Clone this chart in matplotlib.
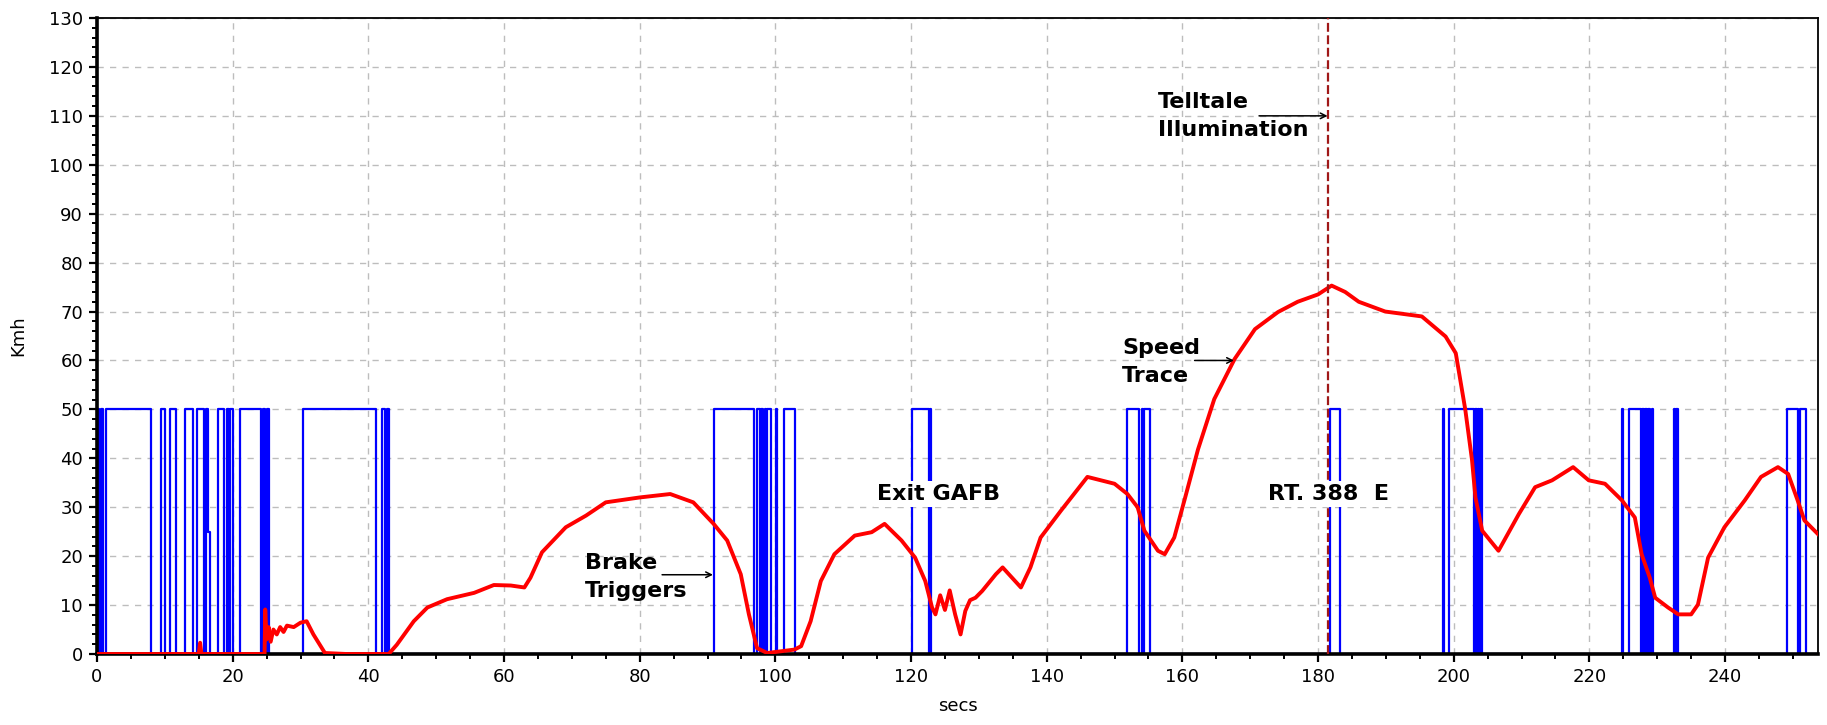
import matplotlib
matplotlib.use("Agg")
import matplotlib.pyplot as plt
from matplotlib.ticker import MultipleLocator

# speed trace (secs, Kmh)
speed_t = [0, 15.0, 15.2, 15.4, 24.7, 24.8, 25.0, 25.3, 25.6, 26.0, 26.5, 27.0, 27.5, 28, 29, 30,
           30.9, 31.9, 33.6, 36.8, 40.8, 43.0, 44.2, 46.7, 48.7, 51.6, 55.6, 58.5, 61, 63, 63.9,
           65.6, 69.1, 72.1, 75, 80, 84.5, 87.9, 90.9, 92.9, 94.9, 96.1, 97.3, 98.8, 102.8, 103.8,
           105.2, 106.7, 108.7, 111.7, 114.2, 116.1, 118.6, 120.6, 122.1, 123.1, 123.6, 124.3, 125,
           125.7, 126.5, 127.3, 128, 128.7, 129.5, 130.5, 132.5, 133.5, 136.2, 137.6, 139.1, 142.1,
           146, 150, 151.9, 153.4, 154.4, 156.4, 157.4, 158.8, 160.3, 162.3, 164.7, 167.7, 170.7,
           174.1, 177, 180, 182, 184, 186, 189.9, 195.3, 198.8, 200.3, 201.7, 202.7, 203.2, 204.2,
           206.6, 209.6, 212, 214.5, 217.6, 219.9, 222.3, 224.8, 226.7, 227.7, 228.9, 229.7, 231.6,
           233.1, 235, 236, 237.5, 239.9, 242.9, 245.3, 247.8, 249.3, 250.7, 251.7, 253.7]
speed_v = [0, 0, 2.3, 0, 0, 9.1, 3, 5.5, 2.5, 5, 4, 5.5, 4.5, 5.8, 5.5, 6.4,
           6.7, 4, 0.2, 0, 0, 0, 1.9, 6.7, 9.5, 11.2, 12.5, 14.1, 14, 13.6, 15.6,
           20.8, 25.9, 28.3, 31, 32, 32.7, 31, 26.6, 23.2, 16.3, 8.1, 1.2, 0.2, 0.9, 1.6,
           6.7, 14.9, 20.4, 24.2, 24.9, 26.6, 23.2, 19.7, 14.9, 9.5, 8.1, 12, 9,
           13, 8.1, 4, 8.8, 11, 11.5, 12.9, 16.3, 17.7, 13.6, 17.7, 23.8, 29.3,
           36.2, 34.8, 32.7, 30, 25.2, 21.1, 20.4, 23.8, 31.4, 41.8, 52.1, 60.3, 66.4,
           69.9, 72, 73.5, 75.3, 74, 72, 70, 69, 64.9, 61.5, 50, 39.6, 32, 25.2,
           21.1, 28.6, 34.1, 35.5, 38.2, 35.5, 34.8, 31.4, 27.9, 20.4, 15.6, 11.5, 9.5,
           8.1, 8.1, 10.1, 19.7, 25.9, 31.4, 36.2, 38.2, 36.8, 31.4, 27.3, 24.5]

# brake trigger signal: (time where level changes, new level)
brake_steps = [(0.0, 50), (0.3, 0), (0.6, 50), (0.9, 0), (1.3, 50), (7.9, 0), (9.4, 50), (10.0, 0),
               (10.7, 50), (11.7, 0), (12.9, 50), (14.2, 0), (14.8, 50), (15.7, 0), (16.0, 50),
               (16.4, 25), (16.7, 0), (17.9, 50), (18.7, 0), (19.1, 50), (19.4, 0), (19.6, 50),
               (20.0, 0), (21.1, 50), (24.2, 0), (24.5, 50), (24.8, 0), (25.0, 50), (25.3, 0),
               (30.3, 50), (41.1, 0), (42.0, 50), (42.5, 0), (42.7, 50), (43.0, 0),
               (91.0, 50), (96.8, 0), (97.3, 50), (97.7, 0), (97.9, 50), (98.2, 0), (98.4, 50),
               (98.6, 0), (98.8, 50), (99.3, 0), (100.1, 50), (100.2, 0), (101.2, 50), (102.9, 0),
               (120.2, 50), (122.6, 0), (122.75, 50), (122.9, 0),
               (151.9, 50), (153.6, 0), (154.1, 50), (154.2, 0), (154.4, 50), (155.3, 0),
               (181.7, 50), (183.3, 0),
               (198.4, 50), (198.6, 0), (199.3, 50), (203.0, 0), (203.2, 50), (203.4, 0),
               (203.6, 50), (203.8, 0), (203.9, 50), (204.1, 0),
               (224.8, 50), (225.0, 0), (225.9, 50), (227.6, 0), (227.8, 50), (228.0, 0),
               (228.2, 50), (228.5, 0), (228.7, 50), (229.0, 0), (229.2, 50), (229.4, 0),
               (232.5, 50), (232.65, 0), (232.8, 50), (233.0, 0),
               (249.2, 50), (250.8, 0), (251.0, 50), (251.9, 0), (253.7, 0)]
brake_t = [s[0] for s in brake_steps]
brake_v = [s[1] for s in brake_steps]

telltale_t = 181.4

fig = plt.figure(figsize=(18.27, 7.25), dpi=100)
ax = fig.add_axes([97 / 1827, 71 / 725, 1721 / 1827, 636 / 725])

ax.plot(brake_t, brake_v, color="#0000ff", lw=1.6, drawstyle="steps-post", zorder=2)
ax.plot(speed_t, speed_v, color="#ff0000", lw=2.8, zorder=3)
ax.axvline(telltale_t, color="#a01818", lw=1.6, linestyle=(0, (4, 1.6)), zorder=4)

ax.set_xlim(0, 253.7)
ax.set_ylim(0, 130)
ax.xaxis.set_major_locator(MultipleLocator(20))
ax.xaxis.set_minor_locator(MultipleLocator(5))
ax.yaxis.set_major_locator(MultipleLocator(10))
ax.yaxis.set_minor_locator(MultipleLocator(2))
ax.grid(True, which="major", color="#bdbdbd", lw=1, linestyle=(0, (4.5, 4.5)))
ax.set_axisbelow(True)

for side in ["left", "bottom"]:
    ax.spines[side].set_linewidth(2.6)
for side in ["top", "right"]:
    ax.spines[side].set_linewidth(1.3)
ax.tick_params(which="major", direction="out", length=6, width=1.6, labelsize=13, pad=4)
ax.tick_params(which="minor", direction="out", length=3.5, width=1.4)

ax.set_xlabel("secs", fontsize=13, labelpad=8)
ax.set_ylabel("Kmh", fontsize=13, labelpad=16)

bold = dict(fontsize=16, fontweight="bold", color="black")
arrow = dict(arrowstyle="->", color="black", lw=1.1, shrinkA=0, shrinkB=0)

ax.text(156.4, 110, "Telltale\nIllumination", ha="left", va="center", linespacing=1.5, **bold)
ax.annotate("", xy=(181.4, 110), xytext=(171.3, 110), arrowprops=arrow)

ax.text(151.1, 59.6, "Speed\nTrace", ha="left", va="center", linespacing=1.5, **bold)
ax.annotate("", xy=(167.6, 60), xytext=(161.8, 60), arrowprops=arrow)

ax.text(71.9, 15.8, "Brake\nTriggers", ha="left", va="center", linespacing=1.5, **bold)
ax.annotate("", xy=(90.8, 16.2), xytext=(83.3, 16.2), arrowprops=arrow)

ax.text(124.0, 32.7, "Exit GAFB", ha="center", va="center", zorder=6,
        bbox=dict(facecolor="white", edgecolor="none", pad=2), **bold)
ax.text(181.6, 32.7, "RT. 388  E", ha="center", va="center", zorder=6,
        bbox=dict(facecolor="white", edgecolor="none", pad=2), **bold)

fig.savefig("out.png", dpi=100)
